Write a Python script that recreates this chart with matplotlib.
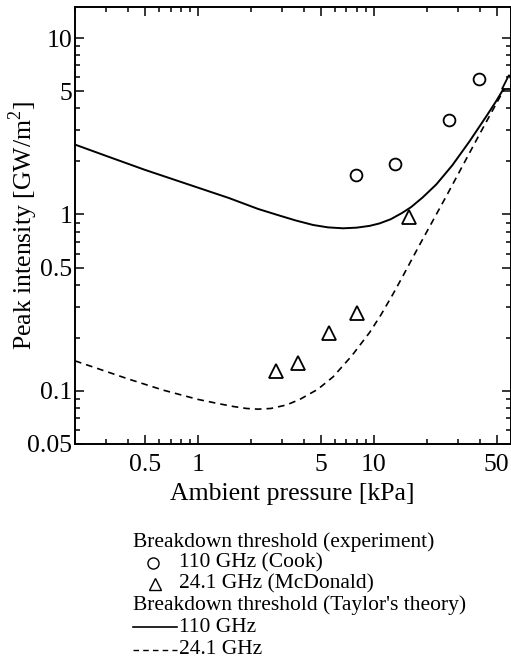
import matplotlib
matplotlib.use("Agg")
import matplotlib.pyplot as plt
from matplotlib.lines import Line2D
from matplotlib.ticker import LogLocator, FixedLocator, FixedFormatter, NullFormatter

plt.rcParams['font.family'] = ['Liberation Serif', 'DejaVu Serif']
plt.rcParams['mathtext.fontset'] = 'custom'
plt.rcParams['mathtext.rm'] = 'Liberation Serif'

# experiment: Cook, 110 GHz
cook_p = [7.97, 13.3, 26.7, 39.9]
cook_i = [1.68, 1.93, 3.42, 5.88]
# experiment: McDonald, 24.1 GHz
mcd_p = [2.77, 3.72, 5.55, 8.04, 15.9, 59.0]
mcd_i = [0.130, 0.143, 0.212, 0.278, 0.97, 5.6]

# Taylor's theory, 110 GHz
th110_p = [0.2, 0.3, 0.5, 1.0, 1.5, 2.2, 2.92, 3.6, 4.52, 5.5, 6.7, 8.0, 9.49, 10.8,
           12.5, 14.5, 16.3, 19.0, 22.7, 28.0, 35.1, 43.7, 49.8, 60.0]
th110_i = [2.49, 2.15, 1.79, 1.42, 1.24, 1.075, 0.985, 0.925, 0.872, 0.845, 0.835, 0.842,
           0.862, 0.89, 0.94, 1.02, 1.10, 1.25, 1.48, 1.9, 2.6, 3.6, 4.4, 6.0]
# Taylor's theory, 24.1 GHz
th24_p = [0.2, 0.3, 0.4, 0.635, 1.0, 1.3, 1.6, 1.89, 2.2, 2.6, 3.19, 3.8, 4.8, 5.87,
          7.5, 9.5, 11.0, 12.9, 14.7, 18.2, 26.0, 40.0, 56.8, 62.0]
th24_i = [0.148, 0.129, 0.117, 0.101, 0.0895, 0.0848, 0.0815, 0.0795, 0.0788, 0.0795,
          0.0832, 0.0895, 0.102, 0.12, 0.158, 0.215, 0.27, 0.355, 0.45, 0.67, 1.28,
          2.85, 5.4, 6.4]

xticks = [0.5, 1, 5, 10, 50]
xticklabels = ['0.5', '1', '5', '10', '50']
yticks = [0.05, 0.1, 0.5, 1, 5, 10]
yticklabels = ['0.05', '0.1', '0.5', '1', '5', '10']

fig = plt.figure(figsize=(5.11, 6.62), dpi=100)
ax = fig.add_axes([75 / 511, 1 - 444 / 662, 435.5 / 511, 437 / 662])

ax.plot(th110_p, th110_i, color='black', lw=1.4)
ax.plot(th24_p, th24_i, color='black', lw=1.2, dashes=(4, 3))
ax.plot(cook_p, cook_i, 'o', mfc='white', mec='black', mew=1.3, ms=8.5, ls='none')
ax.plot(mcd_p, mcd_i, '^', mfc='white', mec='black', mew=1.3, ms=10, ls='none')

ax.set_xscale('log')
ax.set_yscale('log')
ax.set_xlim(0.2, 60)
ax.set_ylim(0.05, 15)

ax.xaxis.set_major_locator(FixedLocator(xticks))
ax.xaxis.set_major_formatter(FixedFormatter(xticklabels))
ax.xaxis.set_minor_locator(LogLocator(base=10, subs=range(1, 10)))
ax.xaxis.set_minor_formatter(NullFormatter())
ax.yaxis.set_major_locator(FixedLocator(yticks))
ax.yaxis.set_major_formatter(FixedFormatter(yticklabels))
ax.yaxis.set_minor_locator(LogLocator(base=10, subs=range(1, 10)))
ax.yaxis.set_minor_formatter(NullFormatter())

ax.tick_params(which='both', direction='in', top=True, right=True, width=1.1)
ax.tick_params(which='major', length=6.5, labelsize=18.5)
ax.tick_params(which='minor', length=3.6)
ax.tick_params(axis='x', which='major', pad=7)
ax.tick_params(axis='y', which='major', pad=2)
for s in ax.spines.values():
    s.set_linewidth(1.4)

ax.set_xlabel('Ambient pressure [kPa]', fontsize=18.5, labelpad=5)
ax.set_ylabel('Peak intensity [GW/m$^2$]', fontsize=18.5, va='center')
ax.yaxis.set_label_coords(-52 / 435.5, 0.5)

# legend drawn as a text block under the axes
fs = 15.5
x0 = 133 / 511
rows = [542, 563, 584, 605, 627, 650]
def fy(py):
    return 1 - py / 662

fig.text(x0, fy(rows[0]), 'Breakdown threshold (experiment)', fontsize=fs, va='center')
fig.add_artist(Line2D([153 / 511], [fy(rows[1])], marker='o', mfc='white', mec='black',
                      mew=1.0, ms=8, transform=fig.transFigure))
fig.text(179 / 511, fy(rows[1]), '110 GHz (Cook)', fontsize=fs, va='center')
fig.add_artist(Line2D([155 / 511], [fy(rows[2])], marker='^', mfc='white', mec='black',
                      mew=1.0, ms=9, transform=fig.transFigure))
fig.text(179 / 511, fy(rows[2]), '24.1 GHz (McDonald)', fontsize=fs, va='center')
fig.text(x0, fy(rows[3]), "Breakdown threshold (Taylor's theory)", fontsize=fs, va='center')
fig.add_artist(Line2D([x0, 177 / 511], [fy(rows[4])] * 2, color='black', lw=1.2,
                      transform=fig.transFigure))
fig.text(179 / 511, fy(rows[4]), '110 GHz', fontsize=fs, va='center')
fig.add_artist(Line2D([x0, 177 / 511], [fy(rows[5])] * 2, color='black', lw=1.0,
                      dashes=(4, 3), transform=fig.transFigure))
fig.text(179 / 511, fy(rows[5]), '24.1 GHz', fontsize=fs, va='center')

fig.savefig('out.png', dpi=100)
